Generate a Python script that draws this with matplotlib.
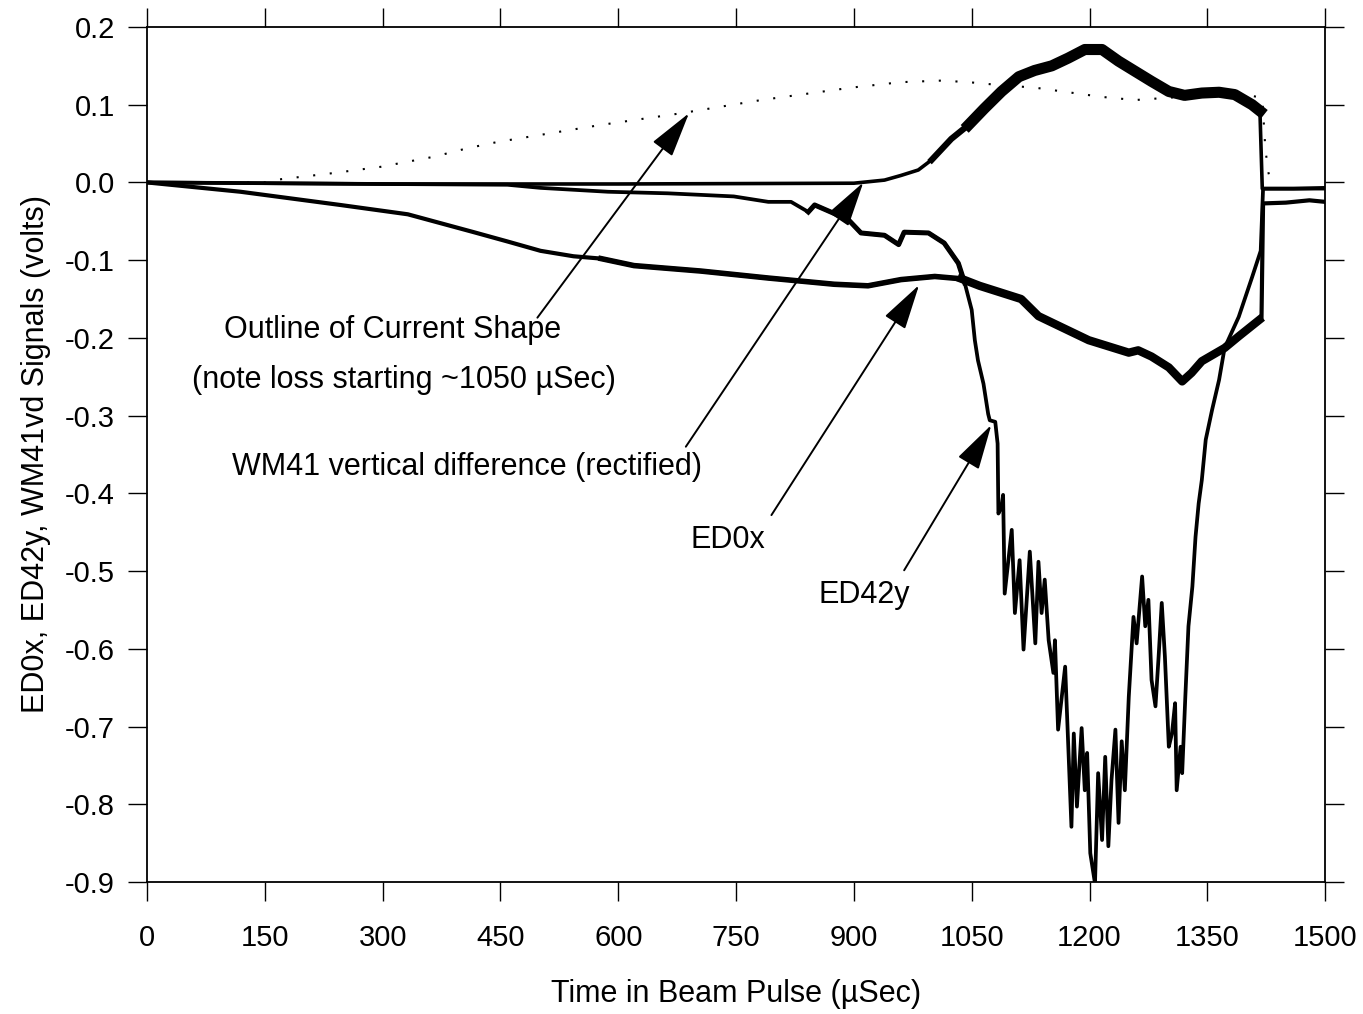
import matplotlib
matplotlib.use("Agg")
import matplotlib.pyplot as plt

plt.rcParams['font.family'] = ['Liberation Sans', 'DejaVu Sans']

# time in beam pulse (uSec) and signals (volts)
t_outline = [0, 150, 161, 237, 297, 365, 408, 446, 578, 680, 782, 897, 960, 1011,
             1046, 1088, 1130, 1173, 1216, 1258, 1301, 1343, 1385, 1420, 1424, 1428, 1432]
v_outline = [0, 0.0, 0.003, 0.012, 0.020, 0.033, 0.044, 0.052, 0.074, 0.089, 0.106, 0.122,
             0.129, 0.131, 0.129, 0.125, 0.122, 0.116, 0.110, 0.106, 0.109, 0.112, 0.115,
             0.109, 0.042, 0.012, -0.005]

t_wm41 = [0, 300, 600, 900, 939, 960, 982, 999, 1024, 1046, 1066, 1088, 1110, 1130, 1152,
          1173, 1194, 1216, 1237, 1258, 1279, 1301, 1321, 1343, 1365, 1385, 1407, 1417,
          1420, 1500]
v_wm41 = [0, -0.002, -0.002, -0.001, 0.003, 0.009, 0.016, 0.029, 0.056, 0.074, 0.095,
          0.117, 0.136, 0.144, 0.150, 0.160, 0.171, 0.171, 0.156, 0.143, 0.130, 0.117,
          0.112, 0.115, 0.116, 0.113, 0.100, 0.092, -0.008, -0.008]

t_ed0x = [0, 119, 246, 332, 416, 459, 501, 543, 578, 620, 705, 791, 875, 918, 960, 1003,
          1037, 1060, 1113, 1135, 1199, 1250, 1262, 1279, 1301, 1318, 1330, 1343, 1372,
          1390, 1416, 1419, 1421, 1450, 1480, 1500]
v_ed0x = [0, -0.012, -0.029, -0.041, -0.064, -0.076, -0.088, -0.095, -0.098, -0.107,
          -0.114, -0.123, -0.131, -0.133, -0.125, -0.121, -0.124, -0.133, -0.150, -0.172,
          -0.203, -0.219, -0.216, -0.224, -0.238, -0.256, -0.245, -0.230, -0.213, -0.198,
          -0.177, -0.175, -0.027, -0.026, -0.023, -0.025]

t_ed42y = [0, 300, 459, 501, 587, 663, 747, 791, 820, 842, 850, 875, 893, 909, 939, 957,
           964, 995, 1015, 1033, 1041, 1050, 1054, 1058, 1065, 1071, 1073, 1080, 1083,
           1084, 1088, 1090, 1092, 1101, 1105, 1111, 1116, 1124, 1131, 1135, 1139, 1143,
           1148, 1154, 1156, 1160, 1169, 1173, 1177, 1180, 1184, 1190, 1194, 1197, 1201,
           1205, 1207, 1211, 1216, 1220, 1224, 1228, 1233, 1237, 1241, 1245, 1250, 1256,
           1260, 1267, 1271, 1275, 1279, 1284, 1288, 1292, 1296, 1301, 1305, 1309, 1311,
           1316, 1318, 1322, 1326, 1331, 1335, 1339, 1343, 1348, 1356, 1365, 1372, 1390,
           1407, 1418, 1421, 1460, 1500]
v_ed42y = [0, -0.002, -0.003, -0.007, -0.012, -0.014, -0.018, -0.025, -0.025, -0.038,
           -0.029, -0.040, -0.048, -0.065, -0.068, -0.080, -0.064, -0.065, -0.078, -0.104,
           -0.129, -0.164, -0.203, -0.229, -0.259, -0.298, -0.306, -0.308, -0.336, -0.426,
           -0.417, -0.402, -0.529, -0.447, -0.554, -0.486, -0.601, -0.475, -0.593, -0.488,
           -0.554, -0.511, -0.589, -0.631, -0.589, -0.704, -0.623, -0.726, -0.829, -0.709,
           -0.803, -0.702, -0.782, -0.734, -0.863, -0.889, -0.902, -0.760, -0.846, -0.739,
           -0.854, -0.769, -0.704, -0.824, -0.719, -0.782, -0.662, -0.559, -0.593, -0.507,
           -0.571, -0.537, -0.640, -0.674, -0.610, -0.541, -0.610, -0.726, -0.709, -0.670,
           -0.782, -0.726, -0.760, -0.662, -0.571, -0.520, -0.456, -0.413, -0.383, -0.331,
           -0.293, -0.254, -0.213, -0.173, -0.122, -0.088, -0.008, -0.008, -0.007]

# stretches where the scanned trace is a thick rippled band: (start, end, width)
wm41_band = [(995, 1070, 4.5), (1046, 1418, 8)]
ed0x_band = [(560, 1060, 4), (1037, 1417, 6)]
ed42y_band = [(830, 1045, 3.6)]

x_ticks = [0, 150, 300, 450, 600, 750, 900, 1050, 1200, 1350, 1500]
y_ticks = [0.2, 0.1, 0.0, -0.1, -0.2, -0.3, -0.4, -0.5, -0.6, -0.7, -0.8, -0.9]


def part(t, v, lo, hi):
    keep = [i for i, x in enumerate(t) if lo <= x <= hi]
    return [t[i] for i in keep], [v[i] for i in keep]


fig = plt.figure(figsize=(13.63, 10.14), dpi=100)
ax = fig.add_axes([0.1079, 0.1302, 0.8643, 0.8432])

ax.plot(t_outline, v_outline, color='black', lw=1.5, linestyle=(0, (1, 7)))
ax.plot(t_wm41, v_wm41, color='black', lw=2.6)
ax.plot(t_ed0x, v_ed0x, color='black', lw=3.0)
ax.plot(t_ed42y, v_ed42y, color='black', lw=2.7)
for t, v, bands in [(t_wm41, v_wm41, wm41_band), (t_ed0x, v_ed0x, ed0x_band),
                    (t_ed42y, v_ed42y, ed42y_band)]:
    for lo, hi, w in bands:
        ax.plot(*part(t, v, lo, hi), color='black', lw=w)

arrow = dict(arrowstyle='-|>,head_length=1.5,head_width=0.4', mutation_scale=19,
             color='black', lw=1.4, shrinkA=0, shrinkB=0)
ax.annotate('', xy=(690, 0.089), xytext=(497, -0.174), arrowprops=arrow)
ax.annotate('', xy=(912, 0.0), xytext=(686, -0.340), arrowprops=arrow)
ax.annotate('', xy=(983, -0.132), xytext=(795, -0.428), arrowprops=arrow)
ax.annotate('', xy=(1075, -0.312), xytext=(964, -0.499), arrowprops=arrow)

fs = 21
fa = 22
ax.text(312, -0.190, 'Outline of Current Shape', ha='center', va='center', fontsize=fa)
ax.text(327, -0.254, '(note loss starting ~1050 \u00b5Sec)', ha='center', va='center', fontsize=fa)
ax.text(407, -0.366, 'WM41 vertical difference (rectified)', ha='center', va='center', fontsize=fa)
ax.text(740, -0.460, 'ED0x', ha='center', va='center', fontsize=fa)
ax.text(913, -0.531, 'ED42y', ha='center', va='center', fontsize=fa)

ax.set_xlim(0, 1500)
ax.set_ylim(-0.9, 0.2)
ax.set_xticks(x_ticks)
ax.set_yticks(y_ticks)
ax.set_yticklabels([f'{v:.1f}' for v in y_ticks])
ax.tick_params(direction='out', length=14, width=1, labelsize=fs,
               top=True, right=True, labeltop=False, labelright=False)
ax.tick_params(axis='x', pad=16)
ax.tick_params(axis='y', pad=9)
for s in ax.spines.values():
    s.set_linewidth(1.3)

ax.set_xlabel('Time in Beam Pulse (\u00b5Sec)', fontsize=fa, labelpad=20)
ax.set_ylabel('ED0x, ED42y, WM41vd Signals (volts)', fontsize=fa, labelpad=10)

fig.savefig('out.png', dpi=100)
